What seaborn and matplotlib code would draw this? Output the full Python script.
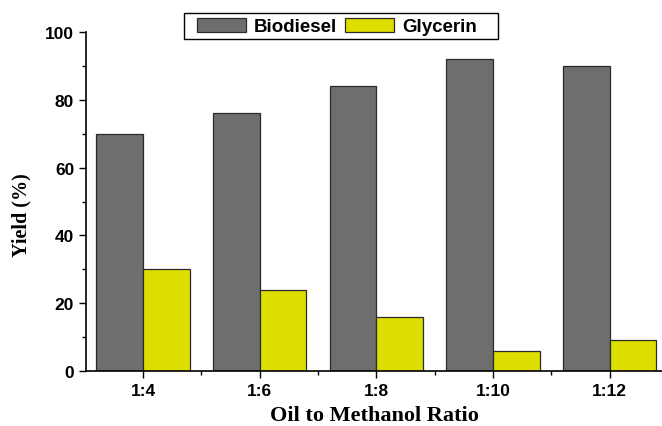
import matplotlib
matplotlib.use("Agg")
import matplotlib.pyplot as plt
import seaborn as sns
import pandas as pd
from matplotlib.patches import Patch, Rectangle
from matplotlib.ticker import MultipleLocator, FixedLocator

# values
ratios = ["1:4", "1:6", "1:8", "1:10", "1:12"]
biodiesel = [70, 76, 84, 92, 90]
glycerin = [30, 24, 16, 6, 9]
series = ["Biodiesel", "Glycerin"]
colors = ["#6e6e6e", "#dddd00"]

df = pd.DataFrame({
    "ratio": ratios * 2,
    "yield": biodiesel + glycerin,
    "product": [series[0]] * len(ratios) + [series[1]] * len(ratios),
})

sns.set_style("ticks")
plt.rcParams.update({"text.color": "black", "axes.labelcolor": "black",
                     "xtick.color": "black", "ytick.color": "black"})

fig = plt.figure(figsize=(6.62, 4.27), dpi=100)
ax = fig.add_axes([86 / 662, 1 - 372 / 427, 1 - 86 / 662, (372 - 33) / 427])

sns.barplot(data=df, x="ratio", y="yield", hue="product", palette=colors,
            width=0.8, gap=0, edgecolor="#2a2a2a", linewidth=0.9,
            saturation=1, ax=ax, legend=False)

ax.set_ylim(0, 100)
ax.set_xlim(-0.49, 4.45)
sns.despine(ax=ax)
for s in ["left", "bottom"]:
    ax.spines[s].set_color("black")
    ax.spines[s].set_linewidth(1.2)

ax.yaxis.set_major_locator(MultipleLocator(20))
ax.yaxis.set_minor_locator(MultipleLocator(10))
ax.xaxis.set_minor_locator(FixedLocator([0.5, 1.5, 2.5, 3.5]))
ax.tick_params(which="major", length=5, width=1, color="black", direction="out")
ax.tick_params(which="minor", length=3, width=1, color="black", direction="out")

for lbl in ax.get_xticklabels() + ax.get_yticklabels():
    lbl.set_fontfamily("Liberation Sans")
    lbl.set_fontweight("bold")
    lbl.set_fontsize(12.5)
    lbl.set_color("black")

label_font = dict(family="Liberation Serif", weight="bold", color="black")
ax.set_xlabel("Oil to Methanol Ratio", fontsize=16, labelpad=5, **label_font)
ax.set_ylabel("Yield (%)", fontsize=14.5, **label_font)
ax.yaxis.set_label_coords(-0.095, 0.463)

# legend box (Origin style, uneven padding)
ax.add_patch(Rectangle((184 / 662, 1 - 40 / 427), (498 - 184) / 662, 26 / 427,
                       transform=fig.transFigure, facecolor="white",
                       edgecolor="black", linewidth=1.0, zorder=5, clip_on=False))
handles = [Patch(facecolor=c, edgecolor="#2a2a2a", linewidth=0.9) for c in colors]
leg = ax.legend(handles, series, ncol=2, loc="center left",
                bbox_to_anchor=(197 / 662, 1 - 27.5 / 427),
                bbox_transform=fig.transFigure, borderaxespad=0, borderpad=0,
                frameon=False, handlelength=2.6, handleheight=0.8,
                handletextpad=0.45, columnspacing=0.4,
                prop=dict(family="Liberation Sans", weight="bold", size=13.5))
leg.set_zorder(6)

fig.savefig("out.png", dpi=100)
